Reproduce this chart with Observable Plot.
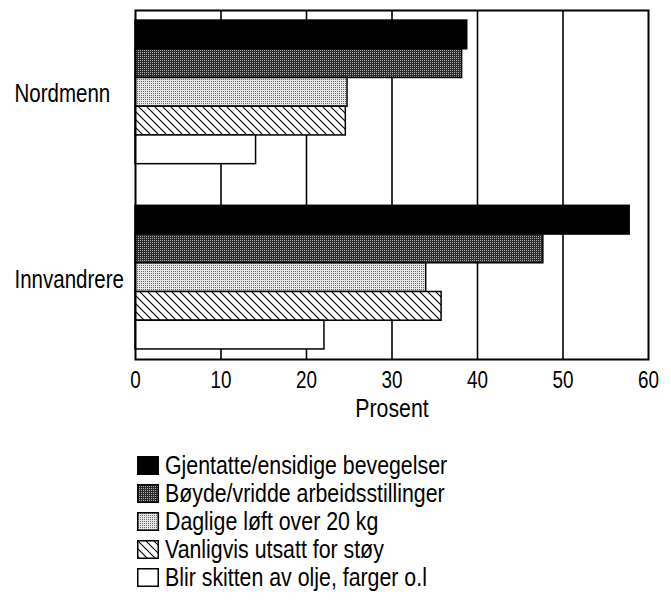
<!DOCTYPE html>
<html>
<head>
<meta charset="utf-8">
<script src="https://cdn.jsdelivr.net/npm/d3@7"></script>
<script src="https://cdn.jsdelivr.net/npm/@observablehq/plot@0.6"></script>
<style>
  body { margin: 0; background: #fff; font-family: "Liberation Sans", Arial, sans-serif; }
  #legend { padding-top: 21px; padding-left: 137px; }
  .row { display: flex; align-items: center; height: 28px; font-size: 26px; color: #000; white-space: nowrap; }
  .row svg { margin-right: 6px; flex: none; }
  .row span { display: inline-block; transform: scaleX(0.82); transform-origin: left center; }
</style>
</head>
<body>
<svg width="0" height="0" style="position:absolute">
  <defs>
    <pattern id="p-dark" width="2" height="2" patternUnits="userSpaceOnUse">
      <rect width="2" height="2" fill="#2a2a2a"/>
      <rect x="0" y="0" width="1" height="1" fill="#b0b0b0"/>
    </pattern>
    <pattern id="p-light" width="2" height="2" patternUnits="userSpaceOnUse">
      <rect width="2" height="2" fill="#e6e6e6"/>
      <rect x="1" y="1" width="1" height="1" fill="#6a6a6a"/>
    </pattern>
    <pattern id="p-hatch" width="8" height="8" patternUnits="userSpaceOnUse">
      <rect width="8" height="8" fill="#fff"/>
      <path d="M0,0L8,8M6,-2L10,2M-2,6L2,10" stroke="#000" stroke-width="1.1"/>
    </pattern>
  </defs>
</svg>
<div id="chart"></div>
<div id="legend"></div>
<script>
const groups = ["Nordmenn", "Innvandrere"];
const categories = [
  "Gjentatte/ensidige bevegelser",
  "Bøyde/vridde arbeidsstillinger",
  "Daglige løft over 20 kg",
  "Vanligvis utsatt for støy",
  "Blir skitten av olje, farger o.l"
];
const nordmenn = [38.8, 38.2, 24.8, 24.6, 14.1];
const innvandrere = [57.8, 47.7, 34.0, 35.8, 22.1];
const xTicks = [0, 10, 20, 30, 40, 50, 60];
const gridTicks = [10, 20, 30, 40, 50];
const fills = ["#000", "url(#p-dark)", "url(#p-light)", "url(#p-hatch)", "#fff"];

// layout in bar units: gap between groups and outer padding
const GAP = 1.45, PAD = 0.35;
const n = categories.length;
const rows = [];
[nordmenn, innvandrere].forEach((vals, g) => vals.forEach((v, k) => {
  const pos = g * (n + GAP) + k;
  rows.push({group: groups[g], category: categories[k], value: v, y1: pos, y2: pos + 1});
}));
const centers = groups.map((g, i) => ({group: g, y: i * (n + GAP) + n / 2}));
const yMax = groups.length * n + (groups.length - 1) * GAP;

const chart = Plot.plot({
  width: 671,
  height: 430,
  marginTop: 10,
  marginBottom: 71,
  marginLeft: 135,
  marginRight: 23,
  style: {fontFamily: '"Liberation Sans", Arial, sans-serif', color: "#000", background: "#fff"},
  x: {domain: [0, 60]},
  y: {domain: [-PAD, yMax + PAD], reverse: true, axis: null},
  color: {domain: categories, range: fills},
  marks: [
    Plot.ruleX(gridTicks, {stroke: "#000", strokeWidth: 1.6}),
    Plot.rect(rows, {x1: 0, x2: "value", y1: "y1", y2: "y2", fill: "category", stroke: "#000", strokeWidth: 1.5}),
    Plot.frame({stroke: "#000", strokeWidth: 2}),
    Plot.axisX(xTicks, {tickSize: 0, tickPadding: 12, fontSize: 23, label: "Prosent", labelAnchor: "center", labelOffset: 57, labelArrow: "none"}),
    Plot.text(centers, {y: "y", text: "group", frameAnchor: "left", textAnchor: "start", dx: -121, dy: 2, fontSize: 25})
  ]
});
// emulate a condensed (Helvetica Narrow-like) face by narrowing each text around its anchor
chart.querySelectorAll("text").forEach(t => {
  const x = +(t.getAttribute("x") || 0);
  const tr = t.getAttribute("transform") || "";
  t.setAttribute("transform", `${tr} translate(${x},0) scale(0.82,1) translate(${-x},0)`);
});
chart.querySelectorAll("g[aria-label='x-axis label'] text").forEach(t => t.setAttribute("font-size", 26));
document.getElementById("chart").appendChild(chart);

const legend = document.getElementById("legend");
categories.forEach((c, i) => {
  const row = document.createElement("div");
  row.className = "row";
  row.innerHTML = `<svg width="22" height="19"><rect x="0.75" y="0.75" width="20.5" height="17.5" fill="${fills[i]}" stroke="#000" stroke-width="1.5"/></svg><span>${c}</span>`;
  legend.appendChild(row);
});
</script>
</body>
</html>
